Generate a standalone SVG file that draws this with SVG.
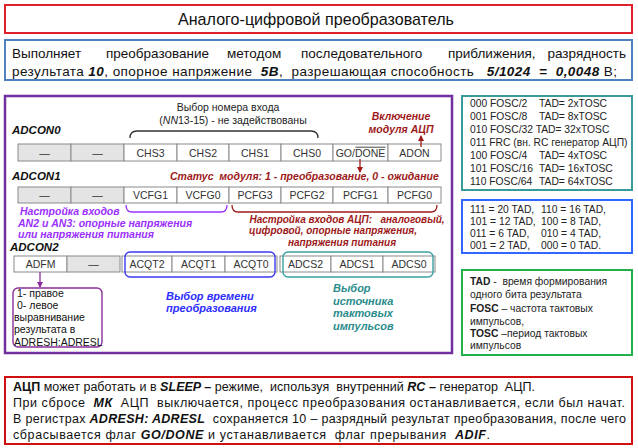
<svg xmlns="http://www.w3.org/2000/svg" width="638" height="448" viewBox="0 0 638 448">
<style>
text{font-family:"Liberation Sans",Arial,sans-serif;}
.cell{fill:#fff;stroke:#8a8a8a;stroke-width:1;}
.gray{fill:#e4e4e4;}
.ct{font-size:10.5px;fill:#333;text-anchor:middle;}
.reg{font-size:11.5px;font-weight:bold;font-style:italic;fill:#111;}
.dr{font-size:10.5px;font-weight:bold;font-style:italic;fill:#9e1a1a;}
.dr2{font-size:10px;font-weight:bold;font-style:italic;fill:#9e1a1a;}
.pu{font-size:10.5px;font-weight:bold;font-style:italic;fill:#9b30ff;}
.bl{font-size:11px;font-weight:bold;font-style:italic;fill:#2e2eff;}
.te{font-size:11px;font-weight:bold;font-style:italic;fill:#2a8c8c;}
.sm{font-size:10.3px;fill:#222;}
.bi{font-weight:bold;font-style:italic;}
.b{font-weight:bold;}
</style>
<defs>
<marker id="ahR" markerWidth="6" markerHeight="6" refX="5" refY="3" orient="auto" markerUnits="userSpaceOnUse"><path d="M0,0 L6,3 L0,6 z" fill="#9e1a1a"/></marker>
<marker id="ahP" markerWidth="6" markerHeight="6" refX="5" refY="3" orient="auto" markerUnits="userSpaceOnUse"><path d="M0,0 L6,3 L0,6 z" fill="#8b2f9b"/></marker>
</defs>
<rect width="638" height="448" fill="#fff"/>

<g id="title">
<rect x="5" y="5" width="627" height="28" fill="#fff" stroke="#e0202a" stroke-width="2"/>
<text x="316" y="25" font-size="17" text-anchor="middle" textLength="276" lengthAdjust="spacingAndGlyphs" fill="#111">Аналого-цифровой преобразователь</text>
</g>

<g id="summary">
<rect x="5" y="40" width="627" height="40" fill="#fff" stroke="#4f81bd" stroke-width="2"/>
<text y="58" font-size="13.5" fill="#111"><tspan x="12">Выполняет</tspan><tspan x="106">преобразование</tspan><tspan x="227">методом</tspan><tspan x="301">последовательного</tspan><tspan x="448">приближения,</tspan><tspan x="626" text-anchor="end">разрядность</tspan></text>
<text x="12" y="76" font-size="13.5" fill="#111" xml:space="preserve" textLength="605">результата <tspan class="bi">10</tspan>, опорное напряжение  <tspan class="bi">5В</tspan>,  разрешающая способность   <tspan class="bi">5/1024  =  0,0048</tspan> В;</text>
</g>

<g id="registers">
<rect x="5" y="96" width="447" height="257" fill="#fff" stroke="#7030a0" stroke-width="2.5"/>
</g>

<g id="adcon0">
<text x="12" y="134" class="reg">ADCON0</text>
<rect class="cell gray" x="18" y="144" width="53" height="17"/>
<rect class="cell gray" x="71" y="144" width="53" height="17"/>
<rect class="cell" x="124" y="144" width="53" height="17"/>
<rect class="cell" x="177" y="144" width="52" height="17"/>
<rect class="cell" x="229" y="144" width="52" height="17"/>
<rect class="cell" x="281" y="144" width="52" height="17"/>
<rect class="cell" x="333" y="144" width="55" height="17"/>
<rect class="cell" x="388" y="144" width="53" height="17"/>
<text class="ct" x="44.5" y="156.5">—</text>
<text class="ct" x="97.5" y="156.5">—</text>
<text class="ct" x="150.5" y="156.5">CHS3</text>
<text class="ct" x="203" y="156.5">CHS2</text>
<text class="ct" x="255" y="156.5">CHS1</text>
<text class="ct" x="307" y="156.5">CHS0</text>
<text class="ct" x="360.5" y="156.5">GO/DONE</text>
<line x1="355.5" y1="147.2" x2="385.5" y2="147.2" stroke="#333" stroke-width="0.9"/>
<text class="ct" x="414.5" y="156.5">ADON</text>
</g>

<g id="chs-note">
<text x="228" y="111" font-size="10.5" fill="#222" text-anchor="middle">Выбор номера входа</text>
<text x="233" y="124" font-size="10.5" fill="#222" text-anchor="middle">(<tspan font-style="italic">NN</tspan>13-15) - не задействованы</text>
<path d="M130,138 Q130,131 137,131 L311,131 Q318,131 318,138" fill="none" stroke="#333" stroke-width="1.3"/>
</g>

<g id="adon-note">
<text class="dr" x="401" y="120" text-anchor="middle">Включение</text>
<text class="dr" x="401" y="133" text-anchor="middle">модуля АЦП</text>
</g>

<g id="status-note">
<text class="dr" x="170" y="180" xml:space="preserve">Статус  модуля: 1 - преобразование, 0 - ожидание</text>
</g>

<g id="adcon1">
<text x="12" y="180" class="reg">ADCON1</text>
<rect class="cell gray" x="18" y="187" width="53" height="16"/>
<rect class="cell gray" x="71" y="187" width="53" height="16"/>
<rect class="cell" x="124" y="187" width="53" height="16"/>
<rect class="cell" x="177" y="187" width="52" height="16"/>
<rect class="cell" x="229" y="187" width="52" height="16"/>
<rect class="cell" x="281" y="187" width="52" height="16"/>
<rect class="cell" x="333" y="187" width="55" height="16"/>
<rect class="cell" x="388" y="187" width="53" height="16"/>
<text class="ct" x="44.5" y="199">—</text>
<text class="ct" x="97.5" y="199">—</text>
<text class="ct" x="150.5" y="199">VCFG1</text>
<text class="ct" x="203" y="199">VCFG0</text>
<text class="ct" x="255" y="199">PCFG3</text>
<text class="ct" x="307" y="199">PCFG2</text>
<text class="ct" x="360.5" y="199">PCFG1</text>
<text class="ct" x="414.5" y="199">PCFG0</text>
</g>

<g id="vcfg-note">
<path d="M126,205 Q126,212 132,212 L221,212 Q227,212 227,205" fill="none" stroke="#9b30ff" stroke-width="1.3"/>
<text class="pu" x="20" y="215">Настройка входов</text>
<text class="pu" x="18" y="227">AN2 и AN3: опорные напряжения</text>
<text class="pu" x="18" y="238">или напряжения питания</text>
</g>

<g id="pcfg-note">
<path d="M232,205 Q232,212 238,212 L431,212 Q437,212 437,205" fill="none" stroke="#9e1a1a" stroke-width="1.3"/>
<text class="dr2" x="347" y="222.5" text-anchor="middle" xml:space="preserve">Настройка входов АЦП:   аналоговый,</text>
<text class="dr2" x="333" y="234" text-anchor="middle">цифровой, опорные напряжения,</text>
<text class="dr2" x="342" y="245.5" text-anchor="middle">напряжения питания</text>
</g>

<g id="adcon2">
<text x="10" y="251" class="reg">ADCON2</text>
<rect class="cell" x="14" y="256" width="53" height="16"/>
<rect class="cell gray" x="67" y="256" width="53" height="16"/>
<rect class="cell" x="122" y="256" width="50" height="16"/>
<rect class="cell" x="172" y="256" width="53" height="16"/>
<rect class="cell" x="225" y="256" width="52" height="16"/>
<rect class="cell" x="280" y="256" width="51" height="16"/>
<rect class="cell" x="331" y="256" width="52" height="16"/>
<rect class="cell" x="383" y="256" width="52" height="16"/>
<text class="ct" x="40.5" y="268">ADFM</text>
<text class="ct" x="93.5" y="268">—</text>
<text class="ct" x="147" y="268">ACQT2</text>
<text class="ct" x="198.5" y="268">ACQT1</text>
<text class="ct" x="251" y="268">ACQT0</text>
<text class="ct" x="305.5" y="268">ADCS2</text>
<text class="ct" x="357" y="268">ADCS1</text>
<text class="ct" x="409" y="268">ADCS0</text>
<rect x="125" y="252" width="150" height="25" rx="5" fill="none" stroke="#3a3af0" stroke-width="1.4"/>
<rect x="283" y="252" width="150" height="25" rx="5" fill="none" stroke="#3aa0a0" stroke-width="1.4"/>
</g>

<g id="adfm-note">
<rect x="13" y="288" width="89" height="59" rx="5" fill="none" stroke="#8b2f9b" stroke-width="1.4"/>
<text x="17" y="297" font-size="10.5" fill="#111">1- правое</text>
<text x="17" y="309" font-size="10.5" fill="#111">0- левое</text>
<text x="14" y="321" font-size="10.5" fill="#111">выравнивание</text>
<text x="14" y="333" font-size="10.5" fill="#111">результата в</text>
<text x="14" y="346" font-size="10.5" fill="#111">ADRESH:ADRESL</text>
</g>

<g id="acqt-note">
<text class="bl" x="166" y="300">Выбор времени</text>
<text class="bl" x="166" y="312">преобразования</text>
</g>

<g id="adcs-note">
<text class="te" x="333" y="292">Выбор</text>
<text class="te" x="333" y="305">источника</text>
<text class="te" x="333" y="317">тактовых</text>
<text class="te" x="333" y="330">импульсов</text>
</g>

<g id="connectors">
<line x1="421" y1="147" x2="421" y2="136" stroke="#9e1a1a" stroke-width="1.3" marker-end="url(#ahR)"/>
<line x1="360" y1="159" x2="360" y2="172" stroke="#9e1a1a" stroke-width="1.3" marker-end="url(#ahR)"/>
<line x1="40" y1="272" x2="40" y2="287" stroke="#8b2f9b" stroke-width="1.3" marker-end="url(#ahP)"/>
</g>

<g id="adcs-table">
<rect x="462" y="96" width="170" height="94" fill="#fff" stroke="#3a9a9a" stroke-width="2"/>
<text class="sm" y="107"><tspan x="470">000 FOSC/2</tspan><tspan x="539">TAD= 2xTOSC</tspan></text>
<text class="sm" y="120"><tspan x="470">001 FOSC/8</tspan><tspan x="539">TAD= 8xTOSC</tspan></text>
<text class="sm" y="133" x="470">010 FOSC/32 TAD= 32xTOSC</text>
<text class="sm" y="146" x="470">011 FRC (вн. RC генератор АЦП)</text>
<text class="sm" y="159"><tspan x="470">100 FOSC/4</tspan><tspan x="539">TAD= 4xTOSC</tspan></text>
<text class="sm" y="172"><tspan x="470">101 FOSC/16</tspan><tspan x="539">TAD= 16xTOSC</tspan></text>
<text class="sm" y="185"><tspan x="470">110 FOSC/64</tspan><tspan x="539">TAD= 64xTOSC</tspan></text>
</g>

<g id="acqt-table">
<rect x="462" y="200" width="170" height="53" fill="#fff" stroke="#3366ff" stroke-width="2"/>
<text class="sm" y="213"><tspan x="470">111 = 20 TAD,</tspan><tspan x="541">110 = 16 TAD,</tspan></text>
<text class="sm" y="225"><tspan x="470">101 = 12 TAD,</tspan><tspan x="541">100 = 8 TAD,</tspan></text>
<text class="sm" y="237"><tspan x="470">011 = 6 TAD,</tspan><tspan x="541">010 = 4 TAD,</tspan></text>
<text class="sm" y="249"><tspan x="470">001 = 2 TAD,</tspan><tspan x="541">000 = 0 TAD.</tspan></text>
</g>

<g id="legend">
<rect x="462" y="270" width="170" height="85" fill="#fff" stroke="#22b04a" stroke-width="2"/>
<text class="sm" x="470" y="285" xml:space="preserve"><tspan class="b">TAD</tspan> -  время формирования</text>
<text class="sm" x="470" y="298">одного бита результата</text>
<text class="sm" x="470" y="312"><tspan class="b">FOSC</tspan> – частота тактовых</text>
<text class="sm" x="470" y="325">импульсов,</text>
<text class="sm" x="470" y="337"><tspan class="b">TOSC</tspan> –период тактовых</text>
<text class="sm" x="470" y="349">импульсов</text>
</g>

<g id="notes">
<rect x="5" y="377" width="627" height="67" fill="#fff" stroke="#d01010" stroke-width="2"/>
<text x="13" y="391" font-size="12.5" fill="#111" xml:space="preserve" textLength="522"><tspan class="b">АЦП</tspan> может работать и в <tspan class="bi">SLEEP –</tspan> режиме,  используя  внутренний <tspan class="bi">RC –</tspan> генератор  АЦП.</text>
<text x="13" y="407" font-size="12.5" fill="#111" xml:space="preserve" textLength="612">При сбросе  <tspan class="bi">МК</tspan>  АЦП  выключается, процесс преобразования останавливается, если был начат.</text>
<text x="13" y="423" font-size="12.5" fill="#111" xml:space="preserve" textLength="613">В регистрах <tspan class="bi">ADRESH: ADRESL</tspan>  сохраняется 10 – разрядный результат преобразования, после чего</text>
<text x="13" y="439" font-size="12.5" fill="#111" xml:space="preserve" textLength="477">сбрасывается флаг <tspan class="bi">GO/DONE</tspan> и устанавливается  флаг прерывания  <tspan class="bi">ADIF</tspan>.</text>
</g>
</svg>
